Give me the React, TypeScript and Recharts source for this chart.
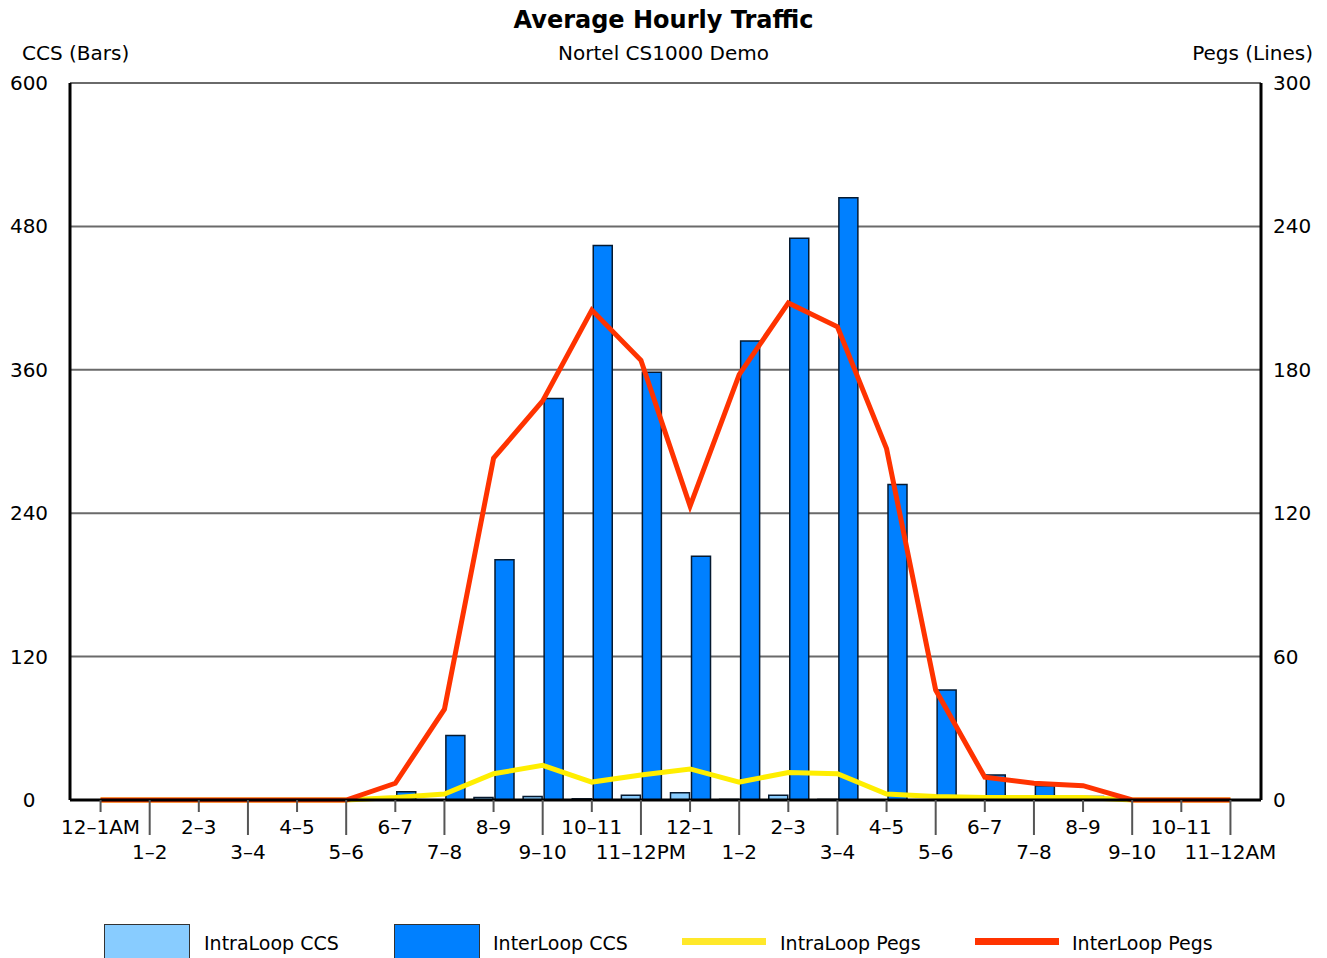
import { Bar, CartesianGrid, ComposedChart, Line, XAxis, YAxis } from "recharts"

const FONT = "'DejaVu Sans', Verdana, sans-serif"

const hours = [
  "12–1AM", "1–2", "2–3", "3–4", "4–5", "5–6", "6–7", "7–8", "8–9", "9–10", "10–11", "11–12PM",
  "12–1", "1–2", "2–3", "3–4", "4–5", "5–6", "6–7", "7–8", "8–9", "9–10", "10–11", "11–12AM",
]
const intraCcs = [0, 0, 0, 0, 0, 0, 0, 0, 2, 3, 1, 4, 6, 0.5, 4, 0.5, 0, 0, 0, 0, 0, 0, 0, 0]
const interCcs = [0, 0, 0, 0, 0, 0, 7, 54, 201, 336, 464, 358, 204, 384, 470, 504, 264, 92, 21, 12, 3, 0, 0, 0]
const intraPegs = [0, 0, 0, 0, 0, 0, 1, 2.5, 11, 14.5, 7.5, 10.5, 13, 7.5, 11.5, 11, 2.5, 1.5, 1, 1, 1, 0, 0, 0]
const interPegs = [0, 0, 0, 0, 0, 0, 7, 38, 143, 167, 205, 184, 123, 178, 208, 198, 147, 46, 9.5, 7, 6, 0, 0, 0]

const leftTicks = [0, 120, 240, 360, 480, 600]
const rightTicks = [0, 60, 120, 180, 240, 300]

const data = hours.map((h, i) => ({
  slot: i,
  intraCcs: intraCcs[i],
  interCcs: interCcs[i],
  intraPegs: intraPegs[i],
  interPegs: interPegs[i],
}))

function HourTick(props: any) {
  const { x, y, payload } = props
  const low = payload.value % 2 === 1
  return (
    <g>
      <line x1={x} y1={y} x2={x} y2={y + (low ? 35 : 12)} stroke="#555" strokeWidth={2} />
      <text
        x={x}
        y={y + (low ? 52 : 27)}
        textAnchor="middle"
        dominantBaseline="central"
        fontFamily={FONT}
        fontSize={20}
        fill="#000"
      >
        {hours[payload.value]}
      </text>
    </g>
  )
}

function LeftTick(props: any) {
  const { y, payload } = props
  return (
    <text x={29} y={y} textAnchor="middle" dominantBaseline="central" fontFamily={FONT} fontSize={20} fill="#000">
      {payload.value}
    </text>
  )
}

function RightTick(props: any) {
  const { y, payload } = props
  return (
    <text x={1273} y={y} textAnchor="start" dominantBaseline="central" fontFamily={FONT} fontSize={20} fill="#000">
      {payload.value}
    </text>
  )
}

const legendItems = [
  { label: "IntraLoop CCS", kind: "box", color: "#88CCFF", x: 104, tx: 204 },
  { label: "InterLoop CCS", kind: "box", color: "#0080FF", x: 394, tx: 493 },
  { label: "IntraLoop Pegs", kind: "line", color: "#FFE82A", x: 682, tx: 780 },
  { label: "InterLoop Pegs", kind: "line", color: "#FF3300", x: 975, tx: 1072 },
]

export default function App() {
  return (
    <div style={{ position: "absolute", left: 0, top: 0, width: 1327, height: 958, overflow: "hidden", background: "#fff" }}>
      <ComposedChart
        width={1327}
        height={958}
        data={data}
        margin={{ top: 83, right: 6, bottom: 108, left: 10 }}
        barSize={19}
        barGap={2}
      >
        <CartesianGrid yAxisId="left" vertical={false} stroke="#6a6a6a" strokeWidth={2} />
        <XAxis
          dataKey="slot"
          type="category"
          interval={0}
          padding={{ left: 6, right: 6 }}
          height={50}
          tickSize={0}
          tickMargin={0}
          tickLine={false}
          axisLine={{ stroke: "#000", strokeWidth: 3 }}
          tick={<HourTick />}
        />
        <YAxis
          yAxisId="left"
          orientation="left"
          width={60}
          domain={[0, 600]}
          ticks={leftTicks}
          tickLine={false}
          axisLine={{ stroke: "#000", strokeWidth: 3 }}
          tick={<LeftTick />}
        />
        <YAxis
          yAxisId="right"
          orientation="right"
          width={60}
          domain={[0, 300]}
          ticks={rightTicks}
          tickLine={false}
          axisLine={{ stroke: "#000", strokeWidth: 3 }}
          tick={<RightTick />}
        />
        <Bar yAxisId="left" dataKey="intraCcs" fill="#88CCFF" stroke="#061a30" strokeWidth={1.5} isAnimationActive={false} />
        <Bar yAxisId="left" dataKey="interCcs" fill="#0080FF" stroke="#061a30" strokeWidth={1.5} isAnimationActive={false} />
        <Line yAxisId="right" type="linear" dataKey="intraPegs" stroke="#FFEE00" strokeWidth={5} dot={false} isAnimationActive={false} />
        <Line yAxisId="right" type="linear" dataKey="interPegs" stroke="#FF3300" strokeWidth={5} dot={false} isAnimationActive={false} />
      </ComposedChart>

      <div style={{ position: "absolute", left: 0, width: 1327, top: 4, textAlign: "center", fontFamily: FONT, fontWeight: "bold", fontSize: 24, lineHeight: "32px" }}>
        Average Hourly Traffic
      </div>
      <div style={{ position: "absolute", left: 0, width: 1327, top: 41, textAlign: "center", fontFamily: FONT, fontSize: 20, lineHeight: "24px" }}>
        Nortel CS1000 Demo
      </div>
      <div style={{ position: "absolute", left: 22, top: 41, fontFamily: FONT, fontSize: 20, lineHeight: "24px" }}>CCS (Bars)</div>
      <div style={{ position: "absolute", right: 14, top: 41, fontFamily: FONT, fontSize: 20, lineHeight: "24px" }}>Pegs (Lines)</div>

      {legendItems.map((it) =>
        <div key={it.label}>
          {it.kind === "box" ? (
            <div style={{ position: "absolute", left: it.x, top: 924, width: 84, height: 40, background: it.color, border: "1px solid #333" }} />
          ) : (
            <div style={{ position: "absolute", left: it.x, top: 938, width: 84, height: 7, background: it.color }} />
          )}
          <div style={{ position: "absolute", left: it.tx, top: 930, fontFamily: FONT, fontSize: 19, lineHeight: "26px" }}>{it.label}</div>
        </div>
      )}
    </div>
  )
}
